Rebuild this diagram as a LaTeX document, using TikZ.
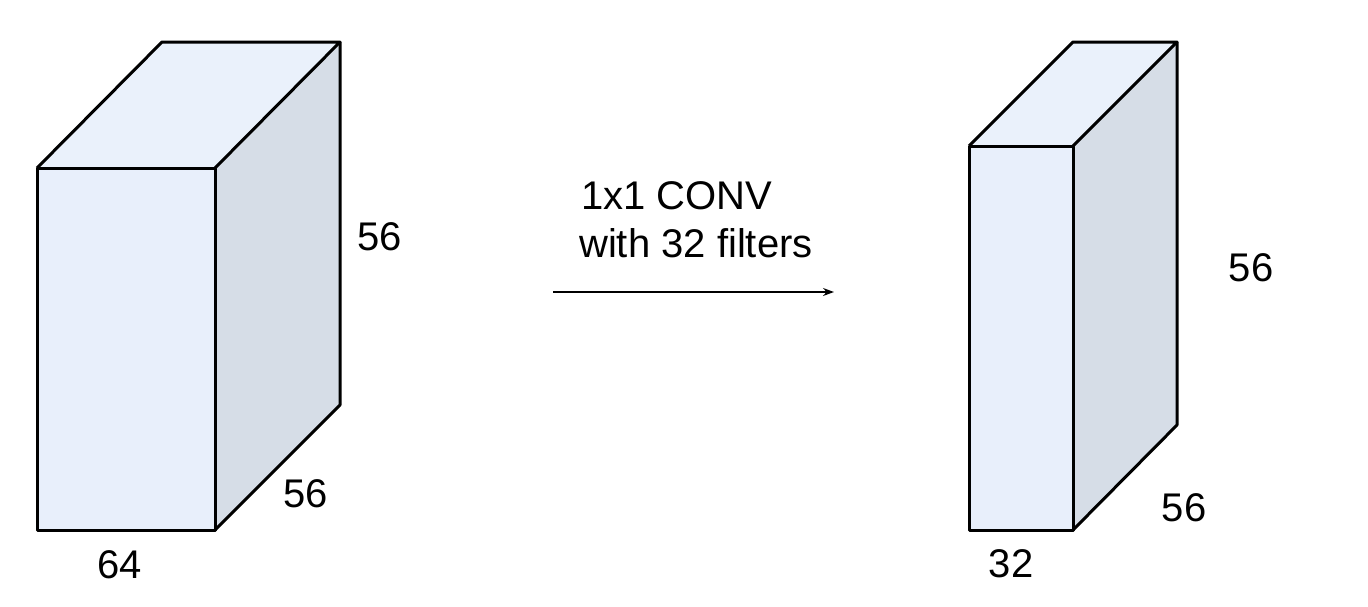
\documentclass[tikz,border=0pt]{standalone}
\usepackage{fontspec}
\setmainfont{Liberation Sans}
\usetikzlibrary{arrows.meta}
\definecolor{frontc}{HTML}{E8EFFB}
\definecolor{topc}{HTML}{EAF1FB}
\definecolor{sidec}{HTML}{D6DDE7}
\tikzset{
  face/.style={draw=black, line width=3pt, line join=round},
  lbl/.style={inner sep=0pt, font=\fontsize{40}{46}\selectfont},
}
\begin{document}
\begin{tikzpicture}[x=1pt,y=-1pt]
\useasboundingbox (0,0) rectangle (1368,606);
% left box
\coordinate (LA) at (37,168);
\coordinate (LB) at (215,168);
\coordinate (LC) at (215,530);
\coordinate (LD) at (37,530);
\coordinate (LE) at (162,42);
\coordinate (LF) at (340,42);
\coordinate (LG) at (340,405);
\fill[frontc] (LA) -- (LB) -- (LC) -- (LD) -- cycle;
\fill[topc] (LA) -- (LE) -- (LF) -- (LB) -- cycle;
\fill[sidec] (LB) -- (LF) -- (LG) -- (LC) -- cycle;
\draw[face] (LA) -- (LB) -- (LC) -- (LD) -- cycle;
\draw[face] (LA) -- (LE) -- (LF) -- (LB);
\draw[face] (LF) -- (LG) -- (LC);
% right box
\coordinate (RA) at (969,146);
\coordinate (RB) at (1073,146);
\coordinate (RC) at (1073,530);
\coordinate (RD) at (969,530);
\coordinate (RE) at (1073,42);
\coordinate (RF) at (1177,42);
\coordinate (RG) at (1177,425);
\fill[frontc] (RA) -- (RB) -- (RC) -- (RD) -- cycle;
\fill[topc] (RA) -- (RE) -- (RF) -- (RB) -- cycle;
\fill[sidec] (RB) -- (RF) -- (RG) -- (RC) -- cycle;
\draw[face] (RA) -- (RB) -- (RC) -- (RD) -- cycle;
\draw[face] (RA) -- (RE) -- (RF) -- (RB);
\draw[face] (RF) -- (RG) -- (RC);
% labels
\node[lbl] (l56a) at (380,237) {56};
\node[lbl] (l56b) at (306,494) {56};
\node[lbl] (l64) at (120,565) {64};
\node[lbl] (r56a) at (1251,268) {56};
\node[lbl] (r56b) at (1184,508) {56};
\node[lbl] (r32) at (1011,564) {32};
\node[lbl, anchor=base west] (t1) at (581,209) {1x1 CONV};
\node[lbl, anchor=base west] (t2) at (579,257) {with 32 filters};
% arrow
\coordinate (as) at (553,292);
\coordinate (ae) at (834,292);
\draw[line width=1.3pt, -{Stealth[length=11pt,width=8pt]}] (as) -- (ae);
\end{tikzpicture}
\end{document}
